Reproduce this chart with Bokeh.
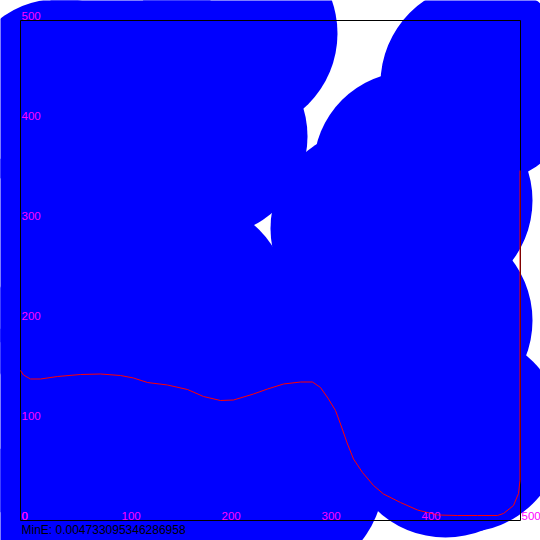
from bokeh.plotting import figure
from bokeh.models import ColumnDataSource
from bokeh.core.properties import value
from bokeh.embed import file_html
from bokeh.resources import INLINE

# blue blobs: centre and radius, in plot units (the plot box is 0..500)
blob_x = [40, 110, 217, 187, 100, 20, 168, 70, 20, 130, 20, 150, 263, 280, 350, 390, 460, 412, 412, 442, 425]
blob_y = [422, 460, 487, 384, 320, 270, 220, 190, 100, 100, -20, 0, 42, 175, 292, 352, 437, 320, 200, 88, 83]
blob_r = [100, 100, 100, 100, 100, 100, 100, 100, 100, 100, 100, 100, 100, 100, 100, 97, 100, 100, 100, 100, 100]

# fitted curve (red)
curve_x = [0, 3, 10, 20, 37, 60, 80, 100, 113, 127, 147, 167, 183, 200, 213, 233, 247, 263,
           280, 292, 300, 308, 315, 320, 327, 333, 342, 353, 363, 380, 397, 417, 437, 457,
           477, 483, 493, 498, 499.5, 499.5]
curve_y = [150, 145.5, 141.5, 141.5, 144, 146, 146.5, 145, 142.5, 138, 135.5, 131, 124, 120, 120.5, 126.5, 131.5, 136.5,
           138.5, 138.5, 133, 121.5, 110, 96.5, 76.5, 61.5, 48, 35, 26.5, 18, 10.5, 5.5, 5, 5,
           5, 7, 15, 27, 40, 350]

ticks = [0, 100, 200, 300, 400, 500]
tick_labels = [str(t) for t in ticks]

min_error = 0.004733095346286958

FONT = value("Arial")

p = figure(width=540, height=540, x_range=(-20, 520), y_range=(-20, 520),
           toolbar_location=None, output_backend="svg", min_border=0,
           x_axis_location=None, y_axis_location=None)
p.grid.visible = False
p.outline_line_color = None
p.background_fill_color = "white"
p.border_fill_color = "white"

blobs = ColumnDataSource(dict(x=blob_x, y=blob_y, r=blob_r))
p.circle(x="x", y="y", radius="r", source=blobs, fill_color="#0000ff", line_color=None)

# plot box
p.quad(left=[ticks[0]], right=[ticks[-1]], bottom=[ticks[0]], top=[ticks[-1]],
       fill_color=None, line_color="black", line_width=1)

p.line(curve_x, curve_y, line_color="#ff0000", line_width=1)

# tick labels sit inside the box, just above their tick
p.text(x=[t + 1 for t in ticks], y=[0] * len(ticks), text=tick_labels,
       text_color="#ff00ff", text_font=FONT, text_font_size="11.5px",
       text_align="left", text_baseline="alphabetic", y_offset=-5)
p.text(x=[1] * len(ticks), y=ticks, text=tick_labels,
       text_color="#ff00ff", text_font=FONT, text_font_size="11.5px",
       text_align="left", text_baseline="alphabetic", y_offset=-5)

p.text(x=[1], y=[-14.5], text=["MinE: " + repr(min_error)],
       text_color="black", text_font=FONT, text_font_size="12px",
       text_align="left", text_baseline="alphabetic", y_offset=-5)

open("out.html", "w").write(file_html(p, INLINE))
